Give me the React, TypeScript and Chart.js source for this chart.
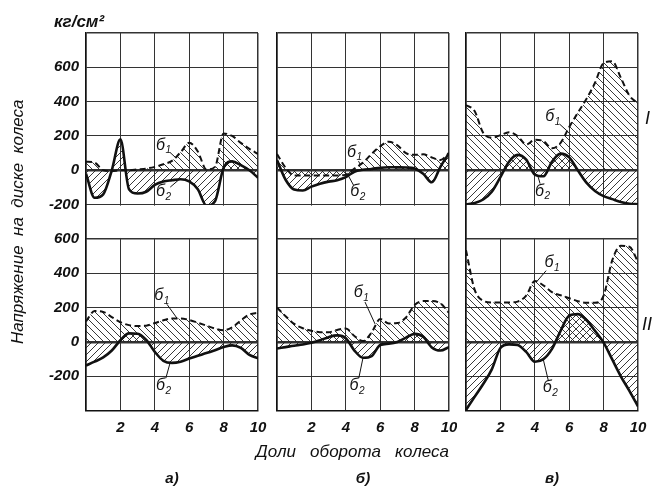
import React, { useEffect, useRef } from 'react';
import { Chart, registerables } from 'chart.js';

Chart.register(...registerables);

// Доли оборота колеса (x positions of the read values)
const X = [0, 0.5, 1, 1.5, 2, 2.5, 3, 3.5, 4, 4.5, 5, 5.5, 6, 6.5, 7, 7.5, 8, 8.5, 9, 9.5, 10];

// Row I (upper panels), kg/cm²
const aTopS1 = [50, 45, 0, -5, 0, 0, 5, 10, 20, 35, 55, 105, 160, 110, 5, 20, 215, 200, 160, 125, 95];
const aTopS2 = [-20, -160, -140, 0, 180, -110, -135, -125, -85, -65, -58, -52, -65, -110, -205, -180, 15, 52, 30, 0, -43];
const bTopS1 = [95, 15, -30, -30, -30, -30, -30, -30, -25, 10, 45, 95, 140, 167, 145, 100, 90, 93, 75, 60, 100];
const bTopS2 = [60, -55, -112, -118, -95, -78, -66, -58, -40, -8, 3, 8, 15, 18, 17, 16, 10, -20, -70, 20, 100];
const cTopS1 = [380, 345, 218, 190, 205, 222, 200, 150, 178, 170, 128, 160, 252, 335, 415, 510, 625, 635, 540, 435, 390];
const cTopS2 = [-200, -190, -170, -125, -40, 50, 90, 62, -25, -35, 50, 97, 75, 0, -72, -120, -150, -168, -185, -195, -198];

// Row II (lower panels), kg/cm²
const aBotS1 = [120, 180, 175, 145, 115, 98, 93, 95, 110, 126, 137, 137, 128, 112, 95, 78, 68, 85, 125, 160, 170];
const aBotS2 = [-137, -115, -90, -50, 10, 50, 48, 12, -58, -110, -122, -115, -97, -80, -65, -48, -30, -20, -35, -75, -95];
const bBotS1 = [200, 150, 105, 80, 65, 57, 57, 70, 78, 35, 5, 55, 133, 108, 110, 143, 215, 238, 238, 225, 170];
const bBotS2 = [-38, -30, -22, -15, -5, 10, 28, 38, 22, -50, -92, -82, -18, -10, 0, 25, 47, 30, -32, -50, -30];
const cBotS1 = [535, 305, 240, 230, 230, 230, 235, 270, 355, 330, 290, 272, 255, 238, 228, 228, 270, 475, 560, 555, 466];
const cBotS2 = [-396, -320, -245, -160, -35, -14, -18, -58, -115, -100, -40, 65, 153, 162, 128, 65, -4, -102, -200, -285, -376];

// Scale ranges and tick labels
const TOP_RANGE = [-200, 800];
const BOT_RANGE = [-400, 600];
const Y_STEP = 200;
const X_STEP = 2;
const Y_TICK_LABELS = ['600', '400', '200', '0', '-200'];
const X_TICK_LABELS = ['2', '4', '6', '8', '10'];

// Texts
const PANEL_LABELS = ['а)', 'б)', 'в)'];
const Y_TITLE = 'Напряжение  на  диске  колеса';
const X_TITLE = 'Доли   оборота   колеса';
const UNIT = 'кг/см²';
const ROW_LABELS = ['I', 'II'];

// σ-labels: [label x, label y, curve x, curve y]
const aTopNote1 = [4.5, 140, 5.2, 75];
const aTopNote2 = [4.5, -132, 5.4, -55];
const bTopNote1 = [4.5, 100, 4.85, 32];
const bTopNote2 = [4.7, -132, 4.15, -32];
const cTopNote1 = [5.05, 305, 5.85, 232];
const cTopNote2 = [4.45, -128, 4.2, -40];
const aBotNote1 = [4.4, 262, 5.3, 137];
const aBotNote2 = [4.5, -262, 4.9, -118];
const bBotNote1 = [4.9, 280, 5.7, 105];
const bBotNote2 = [4.65, -262, 5.0, -92];
const cBotNote1 = [5.0, 455, 4.1, 350];
const cBotNote2 = [4.9, -273, 4.5, -105];

const FONT = "'Liberation Sans', 'DejaVu Sans', sans-serif";
const INK = '#111';

type Col = {
  left: number; width: number; padRight: number; yW: number; showY: boolean;
  label: string; xTitle: string | null;
  top: number[][]; bot: number[][];
  notes: { axis: string; n: number[]; sub: string }[];
};

const COLS: Col[] = [
  {
    left: 0, width: 275, padRight: 17, yW: 86, showY: true, label: PANEL_LABELS[0], xTitle: null,
    top: [aTopS1, aTopS2], bot: [aBotS1, aBotS2],
    notes: [
      { axis: 'yTop', n: aTopNote1, sub: '1' }, { axis: 'yTop', n: aTopNote2, sub: '2' },
      { axis: 'yBot', n: aBotNote1, sub: '1' }, { axis: 'yBot', n: aBotNote2, sub: '2' },
    ],
  },
  {
    left: 200, width: 257, padRight: 8, yW: 77, showY: false, label: PANEL_LABELS[1], xTitle: X_TITLE,
    top: [bTopS1, bTopS2], bot: [bBotS1, bBotS2],
    notes: [
      { axis: 'yTop', n: bTopNote1, sub: '1' }, { axis: 'yTop', n: bTopNote2, sub: '2' },
      { axis: 'yBot', n: bBotNote1, sub: '1' }, { axis: 'yBot', n: bBotNote2, sub: '2' },
    ],
  },
  {
    left: 457, width: 199, padRight: 18, yW: 9, showY: false, label: PANEL_LABELS[2], xTitle: null,
    top: [cTopS1, cTopS2], bot: [cBotS1, cBotS2],
    notes: [
      { axis: 'yTop', n: cTopNote1, sub: '1' }, { axis: 'yTop', n: cTopNote2, sub: '2' },
      { axis: 'yBot', n: cBotNote1, sub: '1' }, { axis: 'yBot', n: cBotNote2, sub: '2' },
    ],
  },
];

function makeHatch(forward: boolean): CanvasPattern | string {
  const s = 7;
  const c = document.createElement('canvas');
  c.width = s; c.height = s;
  const g = c.getContext('2d');
  if (!g) return 'rgba(0,0,0,0.2)';
  g.strokeStyle = '#222';
  g.lineWidth = 0.9;
  g.beginPath();
  if (!forward) {
    g.moveTo(-1, -1); g.lineTo(s + 1, s + 1);
    g.moveTo(-1, s - 1); g.lineTo(1, s + 1);
    g.moveTo(s - 1, -1); g.lineTo(s + 1, 1);
  } else {
    g.moveTo(s + 1, -1); g.lineTo(-1, s + 1);
    g.moveTo(-1, 1); g.lineTo(1, -1);
    g.moveTo(s - 1, s + 1); g.lineTo(s + 1, s - 1);
  }
  g.stroke();
  const p = g.createPattern(c, 'repeat');
  return p || 'rgba(0,0,0,0.2)';
}

function buildConfig(col: Col): any {
  const back = makeHatch(false);
  const fwd = makeHatch(true);
  const ds = (vals: number[], axis: string, first: boolean) => ({
    data: X.map((x, i) => ({ x, y: vals[i] })),
    yAxisID: axis,
    borderColor: INK,
    borderWidth: first ? 2 : 2.6,
    borderDash: first ? [6, 3.5] : [],
    backgroundColor: first ? back : fwd,
    fill: 'origin',
    pointRadius: 0,
    cubicInterpolationMode: 'monotone',
  });
  const tickFont = { family: FONT, size: 15, style: 'italic' as const, weight: 'bold' as const };
  const yAxis = (range: number[], hideValue: number) => ({
    type: 'linear', position: 'left', stack: 'col', stackWeight: 5,
    min: range[0], max: range[1],
    ticks: {
      display: col.showY, stepSize: Y_STEP, padding: 7, color: INK, font: tickFont, autoSkip: false,
      callback: (v: number) => (v !== hideValue && Y_TICK_LABELS.includes(String(v)) ? String(v) : ''),
    },
    grid: {
      drawTicks: false, color: '#333',
      lineWidth: (c: any) => (c.tick && c.tick.value === 0 ? 2.5 : c.tick && c.tick.value === range[1] ? 1.5 : 1),
    },
    border: { display: true, color: INK, width: 1.5 },
    afterFit: (s: any) => { s.width = col.yW; s.paddingTop = 0; s.paddingBottom = 0; },
  });

  const notesPlugin = {
    id: 'panelNotes',
    beforeDatasetsDraw(chart: any) {
      const g = chart.scales.yGap;
      const a = chart.chartArea;
      const ctx = chart.ctx;
      ctx.save();
      ctx.fillStyle = '#fff';
      ctx.fillRect(a.left + 1, g.top + 1, a.right - a.left - 2, g.bottom - g.top - 2);
      ctx.restore();
    },
    afterDatasetsDraw(chart: any) {
      const ctx = chart.ctx;
      const xs = chart.scales.x;
      ctx.save();
      for (const note of col.notes) {
        const ys = chart.scales[note.axis];
        const lx = xs.getPixelForValue(note.n[0]);
        const ly = ys.getPixelForValue(note.n[1]);
        const tx = xs.getPixelForValue(note.n[2]);
        const ty = ys.getPixelForValue(note.n[3]);
        const dx = tx - lx, dy = ty - ly;
        const len = Math.hypot(dx, dy) || 1;
        ctx.strokeStyle = INK;
        ctx.lineWidth = 1;
        ctx.beginPath();
        ctx.moveTo(lx + (dx / len) * 9, ly + (dy / len) * 9);
        ctx.lineTo(tx, ty);
        ctx.stroke();
        ctx.fillStyle = INK;
        ctx.textBaseline = 'middle';
        ctx.textAlign = 'center';
        ctx.font = `italic 16px ${FONT}`;
        ctx.fillText('б', lx - 3, ly - 1);
        ctx.font = `italic 10px ${FONT}`;
        ctx.textAlign = 'left';
        ctx.fillText(note.sub, lx + 2, ly + 4);
      }
      ctx.restore();
    },
  };

  return {
    type: 'line',
    data: {
      datasets: [
        ds(col.top[0], 'yTop', true), ds(col.top[1], 'yTop', false),
        ds(col.bot[0], 'yBot', true), ds(col.bot[1], 'yBot', false),
      ],
    },
    options: {
      responsive: false,
      animation: false,
      events: [],
      layout: { padding: { top: 33, right: col.padRight, bottom: 0, left: 0 }, autoPadding: false },
      scales: {
        x: {
          type: 'linear', position: 'bottom', min: 0, max: 10,
          ticks: {
            stepSize: X_STEP, padding: 8, color: INK, font: tickFont, maxRotation: 0, autoSkip: false,
            callback: (v: number) => (X_TICK_LABELS.includes(String(v)) ? String(v) : ''),
          },
          grid: {
            drawTicks: false, color: '#333',
            lineWidth: (c: any) => (c.tick && (c.tick.value === 10 || c.tick.value === 0) ? 1.5 : 1),
          },
          border: { display: true, color: INK, width: 1.5 },
          afterFit: (s: any) => { s.height = 30; s.paddingLeft = 0; s.paddingRight = 0; },
        },
        yBot: yAxis(BOT_RANGE, BOT_RANGE[0]),
        yGap: {
          type: 'linear', position: 'left', stack: 'col', stackWeight: 1, min: 0, max: 1,
          ticks: { display: false },
          grid: { display: false, drawTicks: false },
          border: { display: true, color: INK, width: 1.5 },
          title: {
            display: col.showY, text: Y_TITLE, color: INK,
            font: { family: FONT, size: 17, style: 'italic' },
            padding: { top: 8, bottom: 0 },
          },
          afterFit: (s: any) => { s.width = col.yW; s.paddingTop = 0; s.paddingBottom = 0; },
        },
        yTop: yAxis(TOP_RANGE, TOP_RANGE[1]),
      },
      plugins: {
        legend: { display: false },
        tooltip: { enabled: false },
        filler: { drawTime: 'beforeDatasetsDraw' },
        subtitle: {
          display: !!col.xTitle, text: col.xTitle || '', position: 'bottom', align: 'end', fullSize: true,
          color: INK, font: { family: FONT, size: 17, style: 'italic', lineHeight: 1.2 },
          padding: { top: 1, bottom: 2 },
        },
        title: {
          display: true, text: col.label, position: 'bottom', align: 'center', fullSize: false,
          color: INK, font: { family: FONT, size: 15, style: 'italic', weight: 'bold', lineHeight: 1.2 },
          padding: col.xTitle ? { top: 6, bottom: 0 } : { top: 29.4, bottom: 0 },
        },
      },
    },
    plugins: [notesPlugin],
  };
}

export default function App() {
  const refs = useRef<(HTMLCanvasElement | null)[]>([]);
  useEffect(() => {
    const charts = COLS.map((col, i) => new Chart(refs.current[i] as HTMLCanvasElement, buildConfig(col)));
    return () => charts.forEach((c) => c.destroy());
  }, []);
  const textStyle = { position: 'absolute' as const, color: INK, fontFamily: FONT, fontStyle: 'italic', whiteSpace: 'nowrap' as const };
  return (
    <div style={{ position: 'absolute', left: 0, top: 0, width: 656, height: 488, background: '#fff', overflow: 'hidden' }}>
      {COLS.map((col, i) => (
        <canvas
          key={i}
          ref={(el) => { refs.current[i] = el; }}
          width={col.width}
          height={488}
          style={{ position: 'absolute', left: col.left, top: 0, width: col.width, height: 488, display: 'block' }}
        />
      ))}
      <div style={{ ...textStyle, left: 54, top: 12, fontSize: 17, fontWeight: 'bold', lineHeight: '20px' }}>{UNIT}</div>
      <div style={{ ...textStyle, left: 645, top: 108, fontSize: 18, lineHeight: '20px' }}>{ROW_LABELS[0]}</div>
      <div style={{ ...textStyle, left: 642, top: 314, fontSize: 18, lineHeight: '20px' }}>{ROW_LABELS[1]}</div>
    </div>
  );
}
